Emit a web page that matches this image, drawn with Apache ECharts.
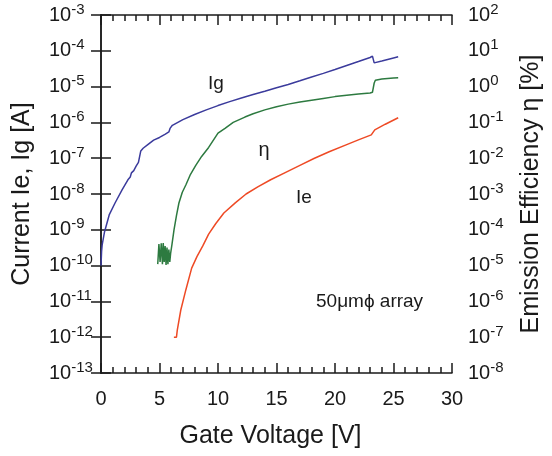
<!DOCTYPE html>
<html>
<head>
<meta charset="utf-8">
<script src="https://cdn.jsdelivr.net/npm/echarts@6/dist/echarts.min.js"></script>
<style>
  html, body { margin: 0; padding: 0; background: #fff; }
  #chart { width: 552px; height: 456px; }
</style>
</head>
<body>
<div id="chart"></div>
<script>
// ---- Data ----
const xTicks = [0, 5, 10, 15, 20, 25, 30];

// Gate current Ig [A]
const igV = [0.0, 0.05, 0.1, 0.3, 0.7, 1.2, 1.8, 2.3, 2.5, 2.6, 2.8, 2.9, 3.0, 3.2, 3.3, 3.4, 3.6, 4.0, 4.5, 5.0, 5.5, 5.8, 5.9, 6.1,
  7, 8, 9, 10, 11, 12, 13, 14, 15, 16, 17, 18, 19, 20, 21, 22, 23, 23.2, 23.35, 24, 25, 25.4];
const igA = [1.0e-10, 2.5e-10, 3.8e-10, 8.7e-10, 2.6e-9, 5.6e-9, 1.3e-8, 2.5e-8, 3.0e-8, 3.9e-8, 4.5e-8, 5.2e-8, 6.0e-8, 7.6e-8, 7.1e-8, 1.6e-7, 1.9e-7, 2.4e-7, 3.2e-7, 3.8e-7, 4.7e-7, 5.4e-7, 6.8e-7, 8.3e-7,
  1.2e-6, 1.66e-6, 2.24e-6, 2.95e-6, 3.8e-6, 4.8e-6, 6.0e-6, 7.4e-6, 9.3e-6, 1.15e-5, 1.45e-5, 1.86e-5, 2.34e-5, 3.0e-5, 3.9e-5, 5.0e-5, 6.5e-5, 7.1e-5, 4.6e-5, 5.2e-5, 6.3e-5, 6.8e-5];

// Emission efficiency eta [%]
const etaV = [4.85, 4.95, 5.05, 5.15, 5.25, 5.32, 5.4, 5.48, 5.56, 5.64, 5.72, 5.8, 5.88, 5.95, 6.07, 6.24, 6.45, 6.66, 6.95, 7.25, 7.65, 8.1, 8.6, 9.2,
  10.0, 10.6, 11.3, 12.3, 13, 14, 15, 16, 17, 18, 19, 20, 21, 22, 23, 23.2, 23.35, 23.45, 24, 25, 25.4];
const etaP = [1.1e-5, 4.0e-5, 1.26e-5, 4.2e-5, 1.1e-5, 4.3e-5, 1.26e-5, 3.5e-5, 1.05e-5, 3.2e-5, 1.1e-5, 2.8e-5, 1.26e-5, 2.2e-5, 3.98e-5, 1.0e-4, 2.5e-4, 5.6e-4, 1.12e-3, 1.78e-3, 3.55e-3, 6.3e-3, 1.12e-2, 2.0e-2,
  5.0e-2, 6.8e-2, 0.10, 0.141, 0.174, 0.224, 0.275, 0.324, 0.372, 0.417, 0.468, 0.525, 0.575, 0.617, 0.661, 0.692, 1.26, 1.51, 1.62, 1.74, 1.78];

// Emission current Ie [A]
const ieV = [6.23, 6.45, 6.52, 6.82, 7.25, 7.75, 8.2, 8.7, 9.2, 9.8, 10.5, 11.5, 12.4, 13.4, 14.5, 15.7, 17, 18.2, 19.5, 21, 22, 23.1, 23.4, 24.3, 25.4];
const ieA = [1.0e-12, 1.0e-12, 1.58e-12, 5.75e-12, 2.09e-11, 8.5e-11, 1.78e-10, 3.55e-10, 7.6e-10, 1.48e-9, 2.95e-9, 5.75e-9, 1.0e-8, 1.58e-8, 2.5e-8, 3.9e-8, 6.3e-8, 9.8e-8, 1.51e-7, 2.4e-7, 3.24e-7, 4.47e-7, 6.2e-7, 8.9e-7, 1.35e-6];

// ---- Chart ----
const FONT = '"Liberation Sans", Arial, sans-serif';
const INK = '#1a1a1a';
const pairs = (xs, ys) => xs.map((x, i) => [x, ys[i]]);
const powLabel = v => '{a|10}{b|' + Math.round(Math.log10(v)) + '}';
const richPow = {
  a: { fontSize: 20, lineHeight: 26, fontFamily: FONT, color: INK },
  b: { fontSize: 15, lineHeight: 15, verticalAlign: 'top', fontFamily: FONT, color: INK }
};
const axisLineStyle = { show: true, lineStyle: { color: INK, width: 1.5 } };
const tickStyle = { show: true, inside: true, length: 10, lineStyle: { color: INK, width: 1.5 } };
const minorStyle = { show: true, splitNumber: 5, length: 6, lineStyle: { color: INK, width: 1.5 } };

const chart = echarts.init(document.getElementById('chart'), null, { renderer: 'canvas' });
chart.setOption({
  animation: false,
  backgroundColor: '#fff',
  grid: { left: 101, right: 95, top: 15, bottom: 83, containLabel: false },
  xAxis: [
    {
      type: 'value', min: xTicks[0], max: xTicks[xTicks.length - 1], interval: 5,
      position: 'bottom',
      name: 'Gate Voltage [V]', nameLocation: 'middle', nameGap: 51,
      nameTextStyle: { fontSize: 25, fontFamily: FONT, color: INK, padding: [0, 12, 0, 0] },
      axisLine: axisLineStyle, axisTick: tickStyle, minorTick: minorStyle,
      axisLabel: { fontSize: 20, fontFamily: FONT, color: INK, margin: 16 },
      splitLine: { show: false }
    },
    {
      type: 'value', min: xTicks[0], max: xTicks[xTicks.length - 1], interval: 5,
      position: 'top',
      axisLine: axisLineStyle, axisTick: tickStyle, minorTick: minorStyle,
      axisLabel: { show: false },
      splitLine: { show: false }
    }
  ],
  yAxis: [
    {
      type: 'log', logBase: 10, min: 1e-13, max: 1e-3, interval: 1, splitNumber: 10,
      position: 'left',
      name: 'Current Ie, Ig [A]', nameLocation: 'middle', nameGap: 66,
      nameTextStyle: { fontSize: 25, fontFamily: FONT, color: INK },
      axisLine: axisLineStyle, axisTick: tickStyle, minorTick: { show: false },
      axisLabel: { formatter: powLabel, rich: richPow, align: 'left', margin: 52 },
      splitLine: { show: false }
    },
    {
      type: 'log', logBase: 10, min: 1e-8, max: 1e2, interval: 1, splitNumber: 10,
      position: 'right',
      name: 'Emission Efficiency η [%]', nameLocation: 'middle', nameGap: 67, nameRotate: 90,
      nameTextStyle: { fontSize: 25, fontFamily: FONT, color: INK },
      axisLine: axisLineStyle, axisTick: tickStyle, minorTick: { show: false },
      axisLabel: { formatter: powLabel, rich: richPow, margin: 16 },
      splitLine: { show: false }
    }
  ],
  series: [
    {
      name: 'Ig', type: 'line', xAxisIndex: 0, yAxisIndex: 0, showSymbol: false,
      data: pairs(igV, igA), lineStyle: { color: '#3b3b9c', width: 1.5 }, itemStyle: { color: '#3b3b9c' }
    },
    {
      name: 'η', type: 'line', xAxisIndex: 0, yAxisIndex: 1, showSymbol: false,
      data: pairs(etaV, etaP), lineStyle: { color: '#2d7a40', width: 1.5 }, itemStyle: { color: '#2d7a40' }
    },
    {
      name: 'Ie', type: 'line', xAxisIndex: 0, yAxisIndex: 0, showSymbol: false,
      data: pairs(ieV, ieA), lineStyle: { color: '#ee4a25', width: 1.5 }, itemStyle: { color: '#ee4a25' }
    }
  ],
  graphic: [
    { type: 'text', x: 216, y: 84, style: { text: 'Ig', font: '19px ' + FONT, fill: INK, textAlign: 'center', textVerticalAlign: 'middle' } },
    { type: 'text', x: 264, y: 150, style: { text: 'η', font: '20px ' + FONT, fill: INK, textAlign: 'center', textVerticalAlign: 'middle' } },
    { type: 'text', x: 304, y: 198, style: { text: 'Ie', font: '19px ' + FONT, fill: INK, textAlign: 'center', textVerticalAlign: 'middle' } },
    { type: 'text', x: 316, y: 302, style: { text: '50μmϕ array', font: '19px ' + FONT, fill: INK, textAlign: 'left', textVerticalAlign: 'middle' } }
  ]
});
</script>
</body>
</html>
